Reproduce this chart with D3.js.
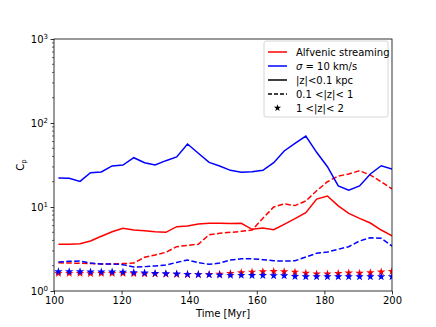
<!DOCTYPE html>
<html>
<head>
<meta charset="utf-8">
<script src="https://cdn.jsdelivr.net/npm/d3@7"></script>
<style>
  body { margin: 0; background: #fff; }
  text { font-family: "DejaVu Sans", sans-serif; }
</style>
</head>
<body>
<div id="chart"></div>
<script>
// time of each snapshot [Myr]
var times = [101.3, 104.5, 107.7, 110.8, 114.0, 117.2, 120.4, 123.6, 126.8, 129.9,
             133.1, 136.3, 139.5, 142.7, 145.9, 149.0, 152.2, 155.4, 158.6, 161.8,
             165.0, 168.1, 171.3, 174.5, 177.7, 180.9, 184.1, 187.2, 190.4, 193.6,
             196.8, 200.0];

// Alfvenic streaming
var alfInner = [3.6, 3.6, 3.66, 3.94, 4.48, 5.08, 5.57, 5.32, 5.22, 5.08,
                4.99, 5.83, 5.94, 6.28, 6.4, 6.4, 6.35, 6.4, 5.42, 5.62,
                5.37, 6.22, 7.26, 8.55, 12.4, 13.5, 10.3, 8.41, 7.33, 6.45,
                5.32, 4.55];
var alfMid   = [2.17, 2.15, 2.14, 2.12, 2.1, 2.1, 2.12, 2.15, 2.52, 2.68,
                2.89, 3.37, 3.5, 3.6, 4.68, 4.86, 4.99, 5.13, 5.32, 7.33,
                10.0, 10.9, 10.4, 11.8, 15.6, 20.0, 23.4, 24.7, 27.0, 24.0,
                20.0, 16.4];
var alfOuter = [1.62, 1.62, 1.62, 1.61, 1.62, 1.62, 1.62, 1.61, 1.60, 1.60,
                1.59, 1.58, 1.57, 1.57, 1.58, 1.59, 1.62, 1.65, 1.68, 1.70,
                1.71, 1.70, 1.68, 1.63, 1.60, 1.60, 1.62, 1.64, 1.63, 1.65,
                1.69, 1.71];

// sigma = 10 km/s
var sigInner = [22.1, 22.0, 20.2, 25.6, 26.1, 30.8, 31.6, 38.6, 33.7, 31.6,
                35.6, 39.4, 56.2, 43.6, 34.0, 30.8, 27.3, 25.9, 26.3, 27.3,
                33.7, 46.4, 57.3, 70.0, 44.8, 30.2, 17.8, 15.9, 17.8, 24.7,
                31.0, 28.3];
var sigMid   = [2.21, 2.26, 2.27, 2.15, 2.1, 2.1, 2.06, 1.93, 1.95, 1.99,
                2.04, 2.19, 2.34, 2.17, 2.08, 2.15, 2.34, 2.42, 2.42, 2.36,
                2.29, 2.27, 2.29, 2.54, 2.81, 2.91, 3.14, 3.37, 3.94, 4.31,
                4.24, 3.43];
var sigOuter = [1.70, 1.70, 1.70, 1.69, 1.69, 1.69, 1.68, 1.66, 1.64, 1.62,
                1.61, 1.60, 1.58, 1.57, 1.56, 1.55, 1.54, 1.54, 1.53, 1.53,
                1.52, 1.52, 1.49, 1.48, 1.48, 1.48, 1.48, 1.48, 1.48, 1.48,
                1.48, 1.48];

var xTicks = [100, 120, 140, 160, 180, 200];
var yTicks = [1, 10, 100, 1000];
var legendLabels = ["Alfvenic streaming", "\u03c3 = 10 km/s", "|z|<0.1 kpc", "0.1 <|z|< 1", "1 <|z|< 2"];

var W = 436, H = 327;
var margin = {top: 39, right: 44, bottom: 36, left: 54},
    width = W - margin.left - margin.right,
    height = H - margin.top - margin.bottom;

var svg = d3.select("#chart").append("svg")
    .attr("width", W)
    .attr("height", H)
  .append("g")
    .attr("transform", "translate(" + margin.left + "," + margin.top + ")");

var x = d3.scaleLinear().domain([100, 200]).range([0, width]);
var y = d3.scaleLog().domain([1, 1000]).range([height, 0]);

// clip so lines stay inside the frame
svg.append("clipPath").attr("id", "clip")
  .append("rect").attr("width", width).attr("height", height);

var line = d3.line()
    .x(function(d) { return x(d.t); })
    .y(function(d) { return y(d.v); });

function pairs(vals) {
  return vals.map(function(v, i) { return {t: times[i], v: v}; });
}

var plot = svg.append("g").attr("clip-path", "url(#clip)");

var series = [
  {vals: alfInner, color: "#ff0000", dash: null},
  {vals: alfMid,   color: "#ff0000", dash: "5.5,2.4"},
  {vals: sigInner, color: "#0000ff", dash: null},
  {vals: sigMid,   color: "#0000ff", dash: "5.5,2.4"}
];

series.forEach(function(s) {
  plot.append("path")
    .datum(pairs(s.vals))
    .attr("fill", "none")
    .attr("stroke", s.color)
    .attr("stroke-width", 1.5)
    .attr("stroke-dasharray", s.dash)
    .attr("d", line);
});

var star = d3.symbol().type(d3.symbolStar).size(22);

[{vals: alfOuter, color: "#ff0000"}, {vals: sigOuter, color: "#0000ff"}].forEach(function(s) {
  plot.selectAll(null)
    .data(pairs(s.vals))
    .enter().append("path")
    .attr("d", star)
    .attr("fill", s.color)
    .attr("transform", function(d) { return "translate(" + x(d.t) + "," + y(d.v) + ")"; });
});

// frame
svg.append("rect")
  .attr("width", width).attr("height", height)
  .attr("fill", "none").attr("stroke", "#000").attr("stroke-width", 0.8);

// x axis
var xAxis = svg.append("g")
  .attr("transform", "translate(0," + height + ")")
  .call(d3.axisBottom(x).tickValues(xTicks).tickSize(3.5).tickPadding(2));
xAxis.select(".domain").remove();
xAxis.selectAll("line").attr("stroke-width", 0.8);
xAxis.selectAll("text").attr("font-size", 10).attr("fill", "#000");

// y axis minor ticks
var minor = [];
for (var d = 1; d < 1000; d *= 10)
  for (var k = 2; k <= 9; k++) minor.push(d * k);
svg.append("g").selectAll("line")
  .data(minor).enter().append("line")
  .attr("x1", -2).attr("x2", 0)
  .attr("y1", function(v) { return y(v); })
  .attr("y2", function(v) { return y(v); })
  .attr("stroke", "#000").attr("stroke-width", 0.6);

// y axis major ticks with 10^n labels
var yAxis = svg.append("g")
  .call(d3.axisLeft(y).tickValues(yTicks).tickSize(3.5).tickFormat(""));
yAxis.select(".domain").remove();
yAxis.selectAll("line").attr("stroke-width", 0.8);

var ylab = svg.append("g").selectAll("text")
  .data(yTicks).enter().append("text")
  .attr("x", -6)
  .attr("y", function(v) { return y(v) + 4; })
  .attr("text-anchor", "end")
  .attr("font-size", 10);
ylab.append("tspan").text("10");
ylab.append("tspan").attr("dy", -4).attr("font-size", 7)
  .text(function(v) { return Math.round(Math.log10(v)); });

// axis labels
svg.append("text")
  .attr("x", width / 2).attr("y", height + 26)
  .attr("text-anchor", "middle").attr("font-size", 10)
  .text("Time [Myr]");

var yt = svg.append("text")
  .attr("transform", "translate(-30," + (height / 2) + ") rotate(-90)")
  .attr("text-anchor", "middle").attr("font-size", 10);
yt.append("tspan").text("C");
yt.append("tspan").attr("font-size", 7).attr("dy", 2).text("p");

// legend
var lg = svg.append("g").attr("transform", "translate(" + (width - 128) + ",2)");
lg.append("rect")
  .attr("width", 124).attr("height", 76).attr("rx", 2)
  .attr("fill", "#fff").attr("fill-opacity", 0.8)
  .attr("stroke", "#ccc").attr("stroke-width", 0.8);

var handles = [
  {color: "#ff0000", dash: null, mark: false},
  {color: "#0000ff", dash: null, mark: false},
  {color: "#000", dash: null, mark: false},
  {color: "#000", dash: "4,2", mark: false},
  {color: "#000", dash: null, mark: true}
];

var legendStar = d3.symbol().type(d3.symbolStar).size(16);

legendLabels.forEach(function(lab, i) {
  var yy = 11 + i * 14;
  var h = handles[i];
  if (h.mark) {
    lg.append("path").attr("d", legendStar)
      .attr("fill", h.color)
      .attr("transform", "translate(" + 13.5 + "," + yy + ")");
  } else {
    lg.append("line")
      .attr("x1", 4).attr("x2", 23).attr("y1", yy).attr("y2", yy)
      .attr("stroke", h.color).attr("stroke-width", 1.5)
      .attr("stroke-dasharray", h.dash);
  }
  var t = lg.append("text").attr("x", 32).attr("y", yy + 3.5).attr("font-size", 10);
  if (i === 1) {
    t.append("tspan").attr("font-style", "italic").text("\u03c3");
    t.append("tspan").text(" = 10 km/s");
  } else {
    t.text(lab);
  }
});
</script>
</body>
</html>
